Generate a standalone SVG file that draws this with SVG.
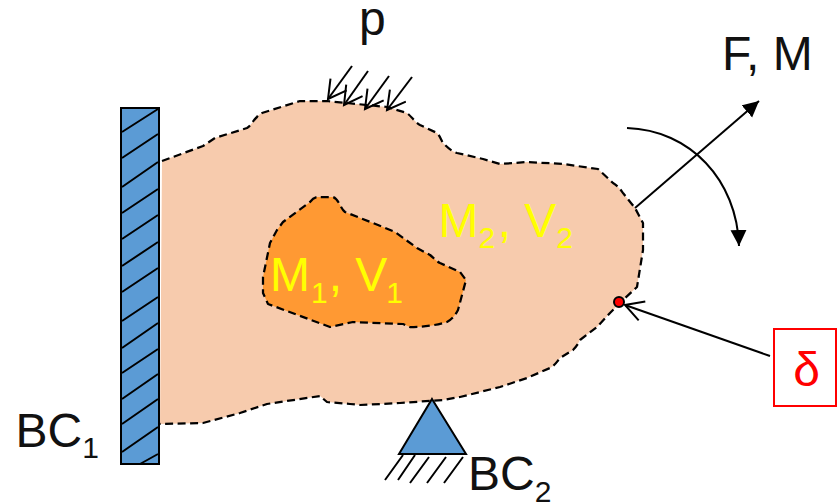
<svg xmlns="http://www.w3.org/2000/svg" width="839" height="503" viewBox="0 0 839 503">
<defs>
<style>
.t{font-family:"Liberation Sans",Arial,sans-serif;font-size:48px;}
.s{font-size:30px;}
.k{fill:#111;}
.y{fill:#ffff00;}
.dash{stroke:#000;stroke-width:2.25;stroke-dasharray:8 4.5;stroke-linejoin:round;}
.ln{stroke:#000;stroke-width:2;fill:none;}
</style>
<marker id="open" markerWidth="24" markerHeight="24" refX="20" refY="11" orient="auto" markerUnits="userSpaceOnUse"><path d="M2 1L20 11L2 21" fill="none" stroke="#000" stroke-width="2"/></marker>
<marker id="solid" markerWidth="18" markerHeight="18" refX="16" refY="8" orient="auto" markerUnits="userSpaceOnUse"><path d="M0 0L16 8L0 16Z" fill="#000"/></marker>
<path id="outer" d="M162 161L203 146L215 138L247 128C252 125 253 120 257 117C258 115 260 114 262 113L300 101L327 101L387 107L407 113C412 117 415 122 420 125L437 133C440 136 441 140 443 143C447 147 451 151 457 153L483 159L500 164L527 162L563 164L598 169L613 183C618 186 620 189 623 193L635 208L643 223L643 250L637 287L623 300L610 313L597 327L580 340C578 344 576 347 573 350L560 358C556 363 555 365 550 368L527 378L500 387L460 397L443 400L400 403L360 405L350 404L327 402L320 396L267 404L240 413L203 423L160 424"/>
</defs>
<g id="outer-body">
<use href="#outer" fill="#f7cbad" stroke="none"/>
<use href="#outer" fill="none" class="dash"/>
</g>
<g id="inner-body">
<path d="M310 202C313 198 316 197 318 197L333 197C339 199 340 208 345 212L383 227L395 232L417 248L430 255C434 258 436 261 440 263L460 272L466 280L458 310C455 316 451 320 447 322C437 325 425 327 410 327L403 324L353 322L330 327L268 304L263 293L263 277L270 243L277 230L283 222Z" fill="#ff9933" class="dash"/>
</g>
<g id="wall-bc1">
<rect x="121" y="108" width="38" height="356" fill="#5b9bd5" stroke="#000" stroke-width="2"/>
<path class="ln" d="M122 132L158 109M122 158L158 134M122 187L158 162M122 213L158 189M122 239L158 215M122 266L158 242M122 292L158 268M122 321L158 297M122 348L158 323M122 373L158 349M122 399L158 374M122 424L158 399M122 452L158 427M140 464L158 454"/>
<text class="t k" x="15.5" y="447">BC<tspan class="s" dy="11">1</tspan></text>
</g>
<g id="support-bc2">
<path d="M432 399L466 454L399 454Z" fill="#5b9bd5" stroke="#000" stroke-width="2"/>
<path class="ln" d="M403 455L385 480M415 455L398 480M429 457L410 483M446 457L427 483M463 457L444 483"/>
<text class="t k" x="468" y="490">BC<tspan class="s" dy="12">2</tspan></text>
</g>
<g id="sensor-point"><circle cx="619" cy="302" r="5" fill="#ff0000" stroke="#000" stroke-width="2"/></g>
<g id="delta-box">
<rect x="774" y="329" width="62" height="77" fill="#fff" stroke="#ff0000" stroke-width="2"/>
<text class="t" x="806.5" y="386" fill="#ff0000" text-anchor="middle">δ</text>
</g>
<g id="labels">
<text class="t k" x="359" y="35">p</text>
<text class="t k" x="722" y="70">F, M</text>
<text class="t y" x="270" y="291">M<tspan class="s" dy="12" dx="1">1</tspan><tspan dy="-12" dx="1">, V</tspan><tspan class="s" dy="12" dx="-1">1</tspan></text>
<text class="t y" x="438.5" y="237">M<tspan class="s" dy="11">2</tspan><tspan dy="-11" dx="2.5">, V</tspan><tspan class="s" dy="11">2</tspan></text>
</g>
<g id="connectors">
<path class="ln" marker-end="url(#open)" d="M352 66L328 99"/>
<path class="ln" marker-end="url(#open)" d="M368 71L344 105"/>
<path class="ln" marker-end="url(#open)" d="M389 76L365 109"/>
<path class="ln" marker-end="url(#open)" d="M412 77L387 110"/>
<path class="ln" marker-end="url(#solid)" d="M635 208L759 101"/>
<path class="ln" marker-end="url(#solid)" d="M627 128C690 130 737 180 739 246"/>
<path class="ln" marker-end="url(#open)" d="M770 356L625 305"/>
</g>
</svg>
